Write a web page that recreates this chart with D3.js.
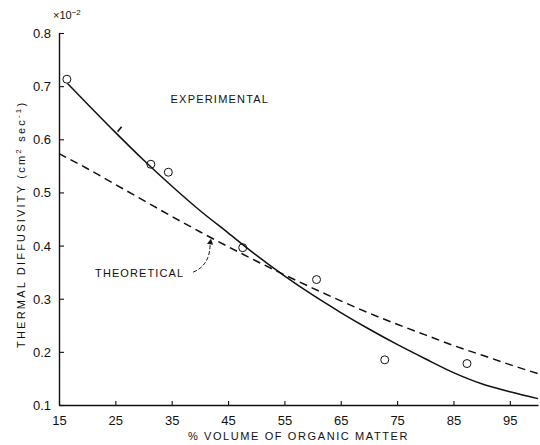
<!DOCTYPE html>
<html>
<head>
<meta charset="utf-8">
<script src="https://cdnjs.cloudflare.com/ajax/libs/d3/7.8.5/d3.min.js"></script>
<style>
  body { margin: 0; background: #fff; }
  svg text { font-family: "Liberation Sans", "DejaVu Sans", sans-serif; fill: #111; }
</style>
</head>
<body>
<div id="chart"></div>
<script>
// x ticks / y ticks
var xTicks = [15, 25, 35, 45, 55, 65, 75, 85, 95];
var yTicks = [0.1, 0.2, 0.3, 0.4, 0.5, 0.6, 0.7, 0.8];

// measured points (open circles)
var obsX = [16.4, 31.3, 34.4, 47.6, 60.7, 72.8, 87.4];
var obsY = [0.713, 0.553, 0.538, 0.396, 0.336, 0.185, 0.178];

// experimental curve (solid)
var expX = [16.5, 20, 25, 30, 35, 40, 45, 50, 55, 60, 65, 70, 75, 80, 85, 90, 95, 100];
var expY = [0.705, 0.667, 0.613, 0.561, 0.512, 0.466, 0.424, 0.382, 0.343, 0.307, 0.274, 0.243, 0.214, 0.187, 0.161, 0.140, 0.125, 0.112];

// theoretical curve (dashed)
var theoX = [15, 20, 25, 30, 35, 40, 45, 50, 55, 60, 65, 70, 75, 80, 85, 90, 95, 100];
var theoY = [0.573, 0.545, 0.515, 0.485, 0.455, 0.426, 0.398, 0.371, 0.345, 0.320, 0.296, 0.273, 0.252, 0.232, 0.212, 0.194, 0.176, 0.159];

var svgWidth = 540, svgHeight = 445;
var margin = {top: 33, right: 2, bottom: 40, left: 59};

var svg = d3.select("#chart")
  .append("svg")
  .attr("width", svgWidth)
  .attr("height", svgHeight);

var xScale = d3.scaleLinear()
  .domain([15, 100])
  .range([margin.left, svgWidth - margin.right]);

var yScale = d3.scaleLinear()
  .domain([0.1, 0.8])
  .range([svgHeight - margin.bottom, margin.top]);

// axes
var bottomAxis = d3.axisBottom(xScale)
  .tickValues(xTicks)
  .tickSizeInner(-4)
  .tickSizeOuter(0)
  .tickPadding(8)
  .tickFormat(d3.format("d"));

var leftAxis = d3.axisLeft(yScale)
  .tickValues(yTicks)
  .tickSizeInner(-5)
  .tickSizeOuter(0)
  .tickPadding(8)
  .tickFormat(d3.format(".1f"));

var gx = svg.append("g")
  .attr("transform", `translate(0, ${yScale(0.1)})`)
  .call(bottomAxis);

var gy = svg.append("g")
  .attr("transform", `translate(${xScale(15)}, 0)`)
  .call(leftAxis);

[gx, gy].forEach(function(g) {
  g.select(".domain").attr("stroke", "#111").attr("stroke-width", 1.4);
  g.selectAll(".tick line").attr("stroke", "#111").attr("stroke-width", 1.1);
  g.selectAll(".tick text")
    .attr("font-size", "13px")
    .style("font-family", "'Liberation Sans', sans-serif")
    .attr("fill", "#111");
});
gx.selectAll(".tick text").attr("dy", "0.9em");
gy.selectAll(".tick text").attr("dy", "0.35em");

// curves
var line = d3.line()
  .x(d => xScale(d[0]))
  .y(d => yScale(d[1]))
  .curve(d3.curveMonotoneX);

svg.append("path")
  .datum(expX.map((x, i) => [x, expY[i]]))
  .attr("d", line)
  .attr("fill", "none")
  .attr("stroke", "#111")
  .attr("stroke-width", 1.5);

svg.append("path")
  .datum(theoX.map((x, i) => [x, theoY[i]]))
  .attr("d", line)
  .attr("fill", "none")
  .attr("stroke", "#111")
  .attr("stroke-width", 1.5)
  .attr("stroke-dasharray", "8,5");

// observed points
svg.selectAll("circle.obs")
  .data(obsX.map((x, i) => [x, obsY[i]]))
  .enter()
  .append("circle")
  .attr("class", "obs")
  .attr("cx", d => xScale(d[0]))
  .attr("cy", d => yScale(d[1]))
  .attr("r", 4)
  .attr("fill", "none")
  .attr("stroke", "#111")
  .attr("stroke-width", 1);

// labels
svg.append("text")
  .attr("x", xScale(34.8))
  .attr("y", yScale(0.668))
  .attr("font-size", "11px")
  .attr("letter-spacing", "1.2px")
  .text("EXPERIMENTAL");

// small pointer mark on experimental curve
var ex = xScale(25.4), ey = yScale(0.614);
svg.append("line")
  .attr("x1", ex).attr("y1", ey)
  .attr("x2", ex + 4).attr("y2", ey - 5)
  .attr("stroke", "#111").attr("stroke-width", 1.6);

svg.append("text")
  .attr("x", xScale(21.4))
  .attr("y", yScale(0.34))
  .attr("font-size", "11px")
  .attr("letter-spacing", "1.1px")
  .text("THEORETICAL");

// curved leader to theoretical curve
var p0 = [xScale(38.8), yScale(0.35)];
var p1 = [xScale(41.6), yScale(0.375)];
var p2 = [xScale(41.8), yScale(0.407)];
svg.append("path")
  .attr("d", `M${p0[0]},${p0[1]} Q${p1[0] + 2},${p1[1] + 6} ${p2[0]},${p2[1]}`)
  .attr("fill", "none")
  .attr("stroke", "#111")
  .attr("stroke-width", 1)
  .attr("stroke-dasharray", "4,2");
svg.append("path")
  .attr("d", `M${p2[0] - 3},${p2[1] + 2} L${p2[0] + 1},${p2[1] - 3} L${p2[0] + 3},${p2[1] + 3} Z`)
  .attr("fill", "#111");

// x axis title
svg.append("text")
  .attr("x", xScale(57.5))
  .attr("y", 440)
  .attr("text-anchor", "middle")
  .attr("font-size", "11px")
  .attr("letter-spacing", "1.6px")
  .text("% VOLUME OF ORGANIC MATTER");

// y axis title
var yTitle = svg.append("text")
  .attr("transform", `translate(25, ${yScale(0.44)}) rotate(-90)`)
  .attr("text-anchor", "middle")
  .attr("font-size", "11px")
  .attr("letter-spacing", "2.2px");
yTitle.append("tspan").text("THERMAL  DIFFUSIVITY  (cm");
yTitle.append("tspan").attr("font-size", "8px").attr("dy", "-4").text("2");
yTitle.append("tspan").attr("dy", "4").text(" sec");
yTitle.append("tspan").attr("font-size", "8px").attr("dy", "-4").text("-1");
yTitle.append("tspan").attr("dy", "4").text(")");

// scale factor
var sf = svg.append("text")
  .attr("x", xScale(15) - 6)
  .attr("y", 19)
  .attr("font-size", "11px");
sf.append("tspan").text("\u00d710");
sf.append("tspan").attr("font-size", "8px").attr("dy", "-4").text("\u22122");
</script>
</body>
</html>
